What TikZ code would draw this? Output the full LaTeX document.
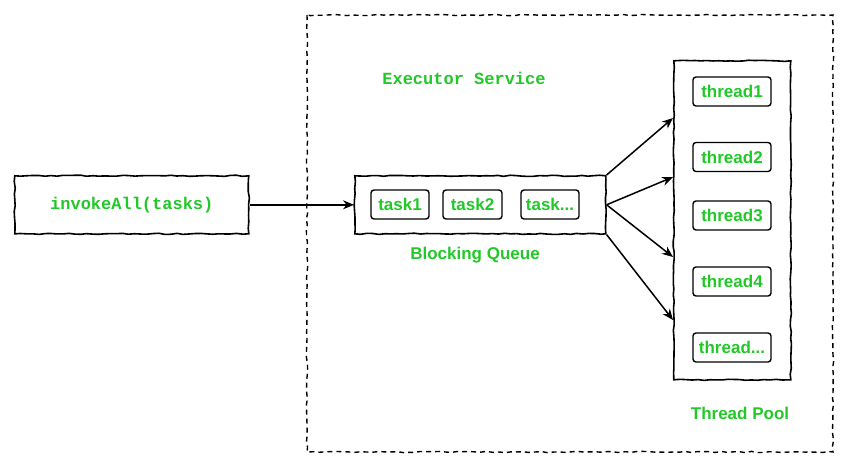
\documentclass[tikz,border=0pt]{standalone}
\usepackage{fontspec}
\setmainfont{Liberation Sans}
\newfontfamily\monofam{Liberation Mono}
\usetikzlibrary{decorations.pathmorphing,arrows.meta}
\definecolor{lbl}{RGB}{34,200,40}
\tikzset{
  x=1pt, y=-1pt,
  wobbly/.style={decoration={random steps,segment length=6pt,amplitude=0.6pt},decorate},
  bigbox/.style={draw=black, line width=1.6pt, wobbly, anchor=north west, inner sep=0pt},
  itembox/.style={draw=black, line width=1.4pt, rounded corners=3pt, minimum height=29pt,
    text=lbl, font=\fontsize{17}{20}\selectfont\bfseries, inner sep=0pt},
  caption/.style={text=lbl, font=\fontsize{17}{20}\selectfont\bfseries},
  monocap/.style={text=lbl, font=\monofam\fontsize{17}{20}\selectfont\bfseries},
  conn/.style={draw=black, line width=1.5pt, -{Stealth[length=11pt,width=9pt]}}
}
\begin{document}
\begin{tikzpicture}
\useasboundingbox (0,0) rectangle (843,463);
\pgfmathsetseed{7}

% executor service frame
\draw[line width=1.4pt, dash pattern=on 5pt off 4pt, wobbly] (307,15) rectangle (833,452);
\node[monocap] (es) at (464,78) {Executor Service};

% caller
\node[bigbox, minimum width=234pt, minimum height=58pt] (call) at (14,175) {};
\node[monocap] (calltxt) at (call.center) {invokeAll(tasks)};

% blocking queue
\node[bigbox, minimum width=251pt, minimum height=58pt] (bq) at (354,175) {};
\node[itembox, minimum width=58pt] (t1) at (400,204.5) {task1};
\node[itembox, minimum width=59pt] (t2) at (472.5,204.5) {task2};
\node[itembox, minimum width=58pt] (t3) at (550,204.5) {task...};
\node[caption] (bqlbl) at (475,255) {Blocking Queue};

% thread pool
\node[bigbox, minimum width=117pt, minimum height=319pt] (tp) at (673,60) {};
\node[itembox, minimum width=78pt] (th1) at (732,91.5) {thread1};
\node[itembox, minimum width=78pt] (th2) at (732,157) {thread2};
\node[itembox, minimum width=78pt] (th3) at (732,215.5) {thread3};
\node[itembox, minimum width=78pt] (th4) at (732,281.5) {thread4};
\node[itembox, minimum width=78pt] (th5) at (732,347.5) {thread...};
\node[caption] (tplbl) at (740,413) {Thread Pool};

% connectors
\draw[conn] (call.east) -- (bq.west);
\coordinate (in1) at (tp.west |- 0,118);
\coordinate (in2) at (tp.west |- 0,177);
\coordinate (in3) at (tp.west |- 0,257);
\coordinate (in4) at (tp.west |- 0,320);
\draw[conn] (bq.north east) -- (in1);
\draw[conn] (bq.east) -- (in2);
\draw[conn] (bq.east) -- (in3);
\draw[conn] (bq.south east) -- (in4);
\end{tikzpicture}
\end{document}
